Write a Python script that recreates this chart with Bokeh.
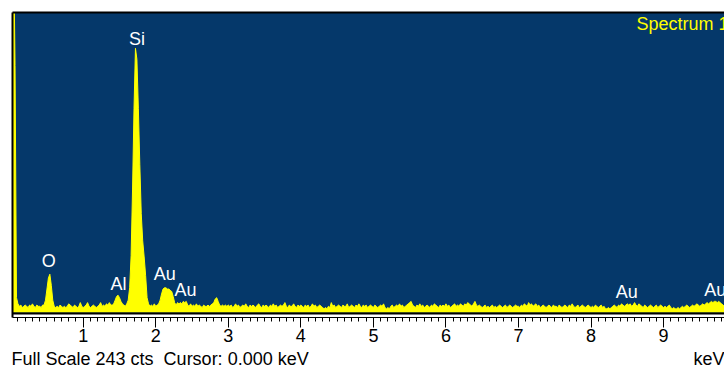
from bokeh.plotting import figure
from bokeh.models import Range1d, FixedTicker, LinearAxis, BoxAnnotation, Span, Label
from bokeh.embed import file_html
from bokeh.resources import INLINE
from bokeh.core.properties import value

# ---------------- data ----------------
channel_start_kev = 0.02
channel_width_kev = 0.02
counts = [
    300, 300, 200, 12, 7, 5, 6, 4, 5, 6, 5, 4, 6, 5, 7, 5, 4, 6, 5, 5, 4, 6, 6, 10, 19,
    28, 31, 22, 10, 5, 4, 5, 4, 6, 5, 4, 5, 4, 5, 7, 6, 5, 4, 6, 5, 4, 5, 8, 5, 4,
    5, 6, 8, 5, 4, 5, 6, 5, 4, 5, 6, 8, 5, 6, 5, 7, 6, 8, 6, 6, 7, 10, 13, 14, 12,
    9, 7, 6, 5, 7, 10, 20, 46, 100, 165, 214, 205, 165, 120, 80, 58, 45, 30, 12, 7, 5, 6, 5, 7, 5,
    6, 7, 10, 15, 19, 20, 20, 19, 19, 18, 17, 13, 8, 6, 8, 7, 8, 7, 9, 8, 9, 6, 5, 7, 5,
    6, 5, 7, 5, 6, 5, 4, 6, 5, 5, 6, 5, 6, 7, 8, 11, 12, 9, 6, 5, 6, 5, 6, 5, 6,
    5, 6, 4, 5, 7, 5, 6, 4, 5, 6, 5, 7, 5, 4, 6, 5, 6, 5, 4, 6, 7, 5, 4, 6, 5,
    6, 5, 4, 6, 5, 7, 5, 6, 4, 5, 6, 5, 6, 8, 5, 4, 6, 5, 5, 7, 5, 4, 6, 5, 6,
    5, 4, 6, 5, 6, 4, 5, 7, 5, 6, 4, 5, 6, 5, 4, 3, 4, 3, 5, 4, 8, 5, 6, 4, 5,
    6, 5, 4, 6, 5, 5, 7, 4, 5, 6, 5, 4, 6, 5, 7, 5, 4, 6, 5, 6, 4, 5, 6, 5, 4,
    6, 5, 4, 5, 6, 5, 7, 4, 3, 4, 3, 5, 6, 4, 5, 6, 5, 7, 5, 6, 4, 5, 6, 7, 8,
    9, 6, 5, 4, 6, 5, 7, 5, 6, 4, 5, 6, 5, 4, 6, 5, 7, 6, 5, 4, 6, 5, 6, 5, 7,
    5, 6, 4, 5, 6, 7, 5, 6, 5, 7, 6, 5, 7, 6, 8, 7, 6, 5, 7, 9, 6, 5, 6, 5, 4,
    5, 6, 4, 5, 4, 5, 6, 4, 5, 4, 5, 6, 5, 4, 5, 6, 4, 5, 6, 5, 4, 5, 6, 5, 5,
    4, 6, 5, 7, 6, 5, 8, 6, 7, 5, 6, 7, 5, 6, 4, 5, 6, 5, 4, 5, 6, 5, 4, 6, 5,
    5, 4, 6, 5, 4, 5, 6, 5, 4, 6, 5, 7, 5, 4, 5, 6, 4, 5, 6, 5, 4, 5, 6, 5, 4,
    5, 4, 6, 5, 4, 5, 6, 4, 5, 3, 3, 4, 3, 4, 5, 6, 5, 4, 6, 5, 7, 6, 5, 6, 7,
    6, 7, 5, 6, 8, 6, 5, 7, 6, 5, 4, 6, 5, 4, 5, 6, 5, 4, 5, 6, 4, 5, 6, 5, 4,
    5, 4, 5, 6, 4, 3, 4, 3, 3, 4, 3, 4, 5, 4, 5, 6, 5, 4, 5, 6, 5, 6, 7, 6, 5,
    6, 7, 6, 7, 8, 7, 8, 9, 8, 9, 9, 8, 9, 8, 7, 6, 5, 5, 4, 5, 4, 5, 4, 5, 4,
]
energy_kev = [round(channel_start_kev + i * channel_width_kev, 2) for i in range(len(counts))]

peak_names = ["O", "Al", "Si", "Au", "Au", "Au", "Au"]
peak_kev = [0.525, 1.486, 1.740, 2.123, 2.409, 8.494, 9.713]
peak_label_cts = [41.4, 23.3, 221.9, 30.8, 18.1, 16.5, 18.1]

major_ticks_kev = [0, 1, 2, 3, 4, 5, 6, 7, 8, 9, 10]
minor_ticks_kev = [round(i * 0.1, 1) for i in range(101)]

full_scale_cts = 243
cursor_kev = "0.000"
spectrum_name = "Spectrum 1"
footer_text = f"Full Scale {full_scale_cts} cts\u00a0 Cursor: {cursor_kev} keV"
unit_text = "keV"

# ---------------- style / layout ----------------
BLUE = "#05386a"
YELLOW = "#ffff00"
FONT = "Liberation Sans"
FOOTER_POS_KEV = 2.06     # centre of the status text
UNIT_POS_KEV = 9.68       # centre of the unit text

p = figure(width=724, height=372,
           x_range=Range1d(0.025, 9.84), y_range=Range1d(-4.05, full_scale_cts),
           output_backend="svg", toolbar_location=None,
           y_axis_location=None,
           min_border_left=12, min_border_right=0, min_border_top=12, min_border_bottom=55,
           background_fill_color="white", border_fill_color="white",
           outline_line_color=None)
p.xgrid.visible = False
p.ygrid.visible = False

# blue panel above the baseline
p.add_layout(BoxAnnotation(bottom=-0.81, fill_color=BLUE, fill_alpha=1.0,
                           line_color=None, level="underlay"))

# spectrum
p.varea(x=energy_kev, y1=0, y2=counts, fill_color=YELLOW, fill_alpha=1.0)
p.line(x=energy_kev, y=counts, line_color=YELLOW, line_width=1)

# baseline separator
p.add_layout(Span(location=-0.81, dimension="width", line_color="black", line_width=2))

# peak labels
p.text(x=peak_kev, y=peak_label_cts, text=peak_names, text_color="white",
       text_font=value(FONT), text_font_size="18px",
       text_align="center", text_baseline="alphabetic")

p.add_layout(Label(x=8.627, y=233.7, text=spectrum_name, text_color=YELLOW,
                   text_font=FONT, text_font_size="18px", text_baseline="alphabetic"))

# bottom axis
xa = p.xaxis[0]
xa.ticker = FixedTicker(ticks=major_ticks_kev, minor_ticks=minor_ticks_kev)
xa.axis_line_color = "black"
xa.axis_line_width = 1
xa.major_tick_out = 10
xa.major_tick_in = 0
xa.minor_tick_out = 4
xa.minor_tick_in = 0
xa.major_tick_line_color = "black"
xa.minor_tick_line_color = "black"
xa.major_label_text_font = FONT
xa.major_label_text_font_size = "18px"
xa.major_label_text_color = "black"
xa.major_label_standoff = 1

# status line below the axis (same baseline for both texts)
footer_axis = LinearAxis(ticker=FixedTicker(ticks=[FOOTER_POS_KEV, UNIT_POS_KEV], minor_ticks=[]),
                         major_label_overrides={FOOTER_POS_KEV: footer_text, UNIT_POS_KEV: unit_text},
                         axis_line_color=None, major_tick_line_color=None,
                         minor_tick_line_color=None,
                         major_tick_out=0, major_tick_in=0, minor_tick_out=0, minor_tick_in=0,
                         major_label_standoff=4,
                         major_label_text_font=FONT, major_label_text_font_size="18px",
                         major_label_text_color="black")
p.add_layout(footer_axis, "below")

# border lines (left and top)
for side in ("left", "above"):
    ax = LinearAxis(ticker=FixedTicker(ticks=[]), axis_line_color="black", axis_line_width=2,
                    major_tick_out=0, major_tick_in=0, minor_tick_out=0, minor_tick_in=0,
                    major_label_text_font_size="0px")
    p.add_layout(ax, side)

open("out.html", "w").write(file_html(p, INLINE))
